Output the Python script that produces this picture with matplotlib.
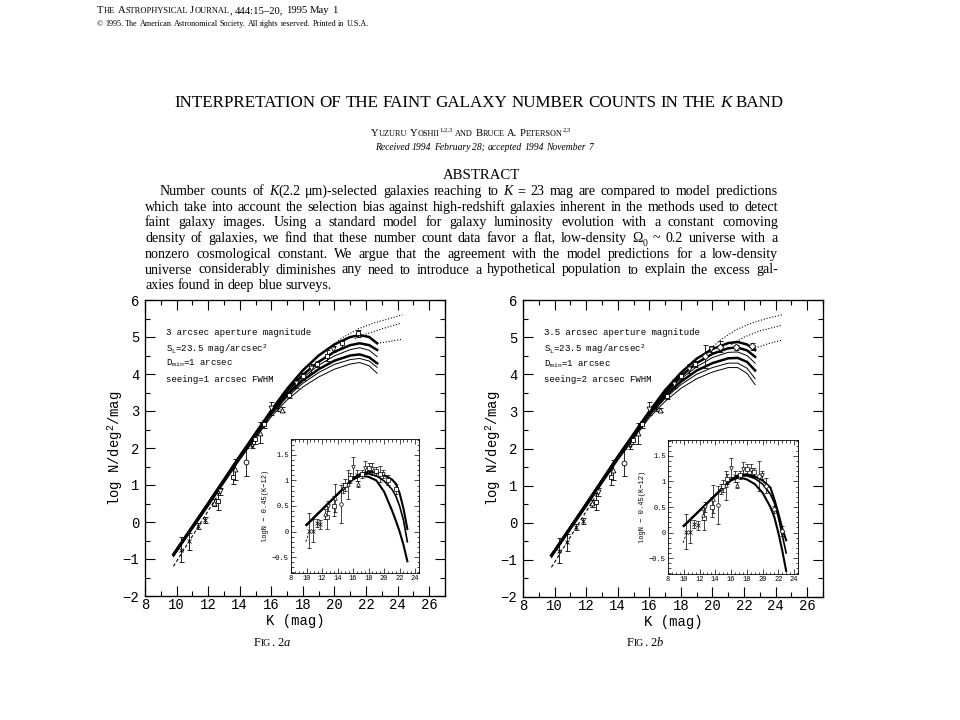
import matplotlib
matplotlib.use("Agg")
import matplotlib.pyplot as plt
import numpy as np
from matplotlib.ticker import MultipleLocator, FuncFormatter

# %% Page text.  '#' = small caps word, '*' toggles italic, '_x' subscript, '^' superscript tail.
header_1 = "#The #Astrophysical #Journal, 444:15–20, 1995 May 1"
header_2 = "© 1995. The American Astronomical Society. All rights reserved. Printed in U.S.A."
title = "INTERPRETATION OF THE FAINT GALAXY NUMBER COUNTS IN THE *K* BAND"
authors = "#Yuzuru #Yoshii^1,2,3 #and #Bruce #A. #Peterson^2,3"
received = "*Received* *1994* *February* *28;* *accepted* *1994* *November* *7*"
abstract_head = "ABSTRACT"
abstract_lines = [
    "Number counts of *K*(2.2 μm)-selected galaxies reaching to *K* = 23 mag are compared to model predictions",
    "which take into account the selection bias against high-redshift galaxies inherent in the methods used to detect",
    "faint galaxy images. Using a standard model for galaxy luminosity evolution with a constant comoving",
    "density of galaxies, we find that these number count data favor a flat, low-density Ω_0 ~ 0.2 universe with a",
    "nonzero cosmological constant. We argue that the agreement with the model predictions for a low-density",
    "universe considerably diminishes any need to introduce a hypothetical population to explain the excess gal-",
    "axies found in deep blue surveys.",
]
captions = ["#Fig. 2*a*", "#Fig. 2*b*"]
notes_a = ["3 arcsec aperture magnitude", r"S$_{\rm L}$=23.5 mag/arcsec$^2$",
           r"D$_{\rm min}$=1 arcsec", "seeing=1 arcsec FWHM"]
notes_b = ["3.5 arcsec aperture magnitude", r"S$_{\rm L}$=23.5 mag/arcsec$^2$",
           r"D$_{\rm min}$=1 arcsec", "seeing=2 arcsec FWHM"]

# %% Model curves, log N/deg^2/mag.
k_model = [9.8, 12, 14, 16, 17, 18, 19, 20, 21, 21.6, 22.2, 22.7]
a_top = [-0.88, 0.5, 1.78, 3.02, 3.6, 4.1, 4.5, 4.8, 5.0, 5.05, 5.0, 4.83]
a_mid = [-0.88, 0.5, 1.77, 2.99, 3.53, 3.98, 4.33, 4.6, 4.78, 4.83, 4.78, 4.65]
a_thin1 = [-0.9, 0.47, 1.74, 2.95, 3.47, 3.9, 4.24, 4.49, 4.66, 4.71, 4.64, 4.47]
a_low = [-0.88, 0.5, 1.76, 2.95, 3.44, 3.83, 4.13, 4.36, 4.5, 4.53, 4.45, 4.29]
a_thin2 = [-0.92, 0.44, 1.71, 2.9, 3.38, 3.75, 4.04, 4.26, 4.39, 4.42, 4.35, 4.18]
a_thin3 = [-0.94, 0.42, 1.68, 2.85, 3.3, 3.65, 3.92, 4.13, 4.27, 4.31, 4.22, 4.02]
b_top = [-0.88, 0.5, 1.78, 3.0, 3.57, 4.04, 4.42, 4.68, 4.84, 4.87, 4.8, 4.65]
b_mid = [-0.88, 0.5, 1.77, 2.98, 3.5, 3.95, 4.3, 4.55, 4.7, 4.72, 4.64, 4.47]
b_thin1 = [-0.9, 0.47, 1.74, 2.95, 3.45, 3.88, 4.2, 4.45, 4.59, 4.6, 4.5, 4.3]
b_low = [-0.88, 0.5, 1.76, 2.93, 3.4, 3.8, 4.1, 4.3, 4.43, 4.44, 4.33, 4.1]
b_thin2 = [-0.92, 0.44, 1.71, 2.88, 3.35, 3.72, 4.0, 4.18, 4.3, 4.3, 4.16, 3.88]
b_thin3 = [-0.94, 0.42, 1.68, 2.83, 3.27, 3.62, 3.88, 4.06, 4.18, 4.18, 4.02, 3.72]

# dotted extensions
a_dot1_k, a_dot1 = [19.5, 20.5, 21.5, 22.5, 23.5, 24.3], [4.66, 4.98, 5.22, 5.38, 5.5, 5.6]
a_dot2_k, a_dot2 = [21.3, 22.0, 23.0, 24.2], [4.95, 5.08, 5.22, 5.37]
a_dot3_k, a_dot3 = [22.7, 23.5, 24.3], [4.83, 4.88, 4.94]
b_dot1_k, b_dot1 = [19.5, 20.5, 21.5, 22.5, 23.5, 24.4], [4.55, 4.92, 5.2, 5.38, 5.51, 5.6]
b_dot2_k, b_dot2 = [21.2, 22.0, 23.0, 24.4], [4.8, 5.0, 5.17, 5.32]
b_dot3_k, b_dot3 = [22.7, 23.5, 24.4], [4.7, 4.82, 4.92]

# dashed bright-end line
dash_k, dash_logn = [9.8, 12.8], [-1.2, 0.85]
dash_in_k, dash_in_y = [9.9, 10.35], [-0.2, -0.02]

# inset model curves, logN - 0.45(K-12)
k_inset = [10, 12, 14, 16, 17, 18, 19, 20, 21, 21.5, 22, 22.5, 23.0]
ia_top = [0.13, 0.43, 0.73, 1.04, 1.13, 1.17, 1.15, 1.1, 1.02, 0.94, 0.75, 0.45, 0.05]
ia_mid = [0.13, 0.43, 0.73, 1.03, 1.11, 1.13, 1.09, 0.99, 0.83, 0.7, 0.5, 0.22, -0.2]
ia_low = [0.13, 0.43, 0.73, 1.02, 1.09, 1.07, 1.0, 0.78, 0.42, 0.22, 0.0, -0.26, -0.58]
ib_top = [0.13, 0.43, 0.73, 1.04, 1.12, 1.14, 1.1, 1.02, 0.88, 0.65, 0.38, 0.08, -0.15]
ib_mid = [0.13, 0.43, 0.73, 1.03, 1.1, 1.11, 1.06, 0.95, 0.75, 0.58, 0.3, -0.05, -0.4]
ib_low = [0.13, 0.43, 0.73, 1.02, 1.08, 1.04, 0.95, 0.78, 0.5, 0.3, 0.0, -0.35, -0.75]

# %% Observed counts (K, log N, error).
cross_k = [10.3, 10.8, 11.35, 11.8, 16.45]
cross_logn = [-0.75, -0.52, -0.12, 0.05, 3.1]
cross_err = [0.34, 0.23, 0.08, 0.08, 0.1]
square_k = [12.6, 13.6, 14.95, 15.55, 17.1, 18.0, 18.9]
square_logn = [0.56, 1.22, 2.24, 2.65, 3.42, 3.94, 4.28]
square_err = [0.23, 0.2, 0.12, 0.1, 0.08, 0.1, 0.08]
circle_k = [14.4]
circle_logn = [1.62]
circle_err = [0.37]
tri_k = [12.4, 13.7, 15.3, 16.7]
tri_logn = [0.52, 1.42, 2.41, 3.04]
tri_err = [0.1, 0.28, 0.28, 0.06]
tdown_k = [12.75, 16.0, 17.55, 18.5, 19.9]
tdown_logn = [0.83, 3.07, 3.75, 4.15, 4.68]
tdown_err = [0.1, 0.18, 0.13, 0.12, 0.08]
star_k = [14.75]
star_logn = [2.09]
star_err = [0.1]
faint_a_k = [19.5, 20.5, 21.5]
faint_a_logn = [4.5, 4.83, 5.1]
faint_a_err = [0.15, 0.1, 0.1]
faint_b_k = [19.5, 20.5, 21.5, 22.5]
faint_b_logn = [4.48, 4.74, 4.73, 4.75]
faint_b_err = [0.3, 0.15, 0.07, 0.1]

# %% Setup.
W, H, DPI = 960, 720, 100
SERIF = ["Liberation Serif", "DejaVu Serif"]
plt.rcParams["font.family"] = ["Liberation Mono", "DejaVu Sans Mono"]
plt.rcParams["mathtext.fontset"] = "custom"
plt.rcParams["mathtext.rm"] = "Liberation Mono"
plt.rcParams["mathtext.it"] = "Liberation Mono:italic"
plt.rcParams["mathtext.bf"] = "Liberation Mono:bold"

fig = plt.figure(figsize=(W / DPI, H / DPI), dpi=DPI)
fig.patch.set_facecolor("white")
renderer = fig.canvas.get_renderer()
_widths = {}


def text_width(s, size, style):
    key = (s, round(size, 3), style)
    if key not in _widths:
        t = fig.text(0, 0, s, fontsize=size, family=SERIF, style=style)
        _widths[key] = t.get_window_extent(renderer).width
        t.remove()
    return _widths[key]


def parse_word(w):
    caps = w.startswith("#")
    if caps:
        w = w[1:]
    sup = ""
    if "^" in w:
        w, sup = w.split("^", 1)
    runs, buf, italic, i = [], "", False, 0
    while i < len(w):
        c = w[i]
        if c == "*":
            if buf:
                runs.append((buf, 1.0, "italic" if italic else "normal", 0.0))
            buf, italic = "", not italic
        elif c == "_" and i + 1 < len(w):
            if buf:
                runs.append((buf, 1.0, "italic" if italic else "normal", 0.0))
            buf = ""
            runs.append((w[i + 1], 0.7, "normal", -0.25))
            i += 1
        else:
            buf += c
        i += 1
    if buf:
        runs.append((buf, 1.0, "italic" if italic else "normal", 0.0))
    if caps:
        out = []
        for s, sc, st, dy in runs:
            seg, low = "", None
            for c in s:
                is_low = c.islower()
                if low is not None and is_low != low:
                    out.append((seg.upper(), sc * (0.78 if low else 1.0), st, dy))
                    seg = ""
                seg += c
                low = is_low
            if seg:
                out.append((seg.upper(), sc * (0.78 if low else 1.0), st, dy))
        runs = out
    if sup:
        runs.append((sup, 0.62, "normal", 0.42))
    return runs


def line_natural(line, size):
    words = [parse_word(w) for w in line.split()]
    ws = [sum(text_width(s, size * sc, st) for s, sc, st, dy in r) for r in words]
    space = text_width("n n", size, "normal") - text_width("nn", size, "normal")
    return words, ws, space


def natural_width(line, size):
    words, ws, space = line_natural(line, size)
    return sum(ws) + space * (len(ws) - 1)


def draw_line(x, y, line, size, width=None, align="left"):
    words, ws, space = line_natural(line, size)
    gap = space
    if width is not None and len(words) > 1:
        gap = (width - sum(ws)) / (len(words) - 1)
    total = sum(ws) + gap * (len(words) - 1)
    if align == "center":
        x -= total / 2
    for runs, w in zip(words, ws):
        xx = x
        for s, sc, st, dy in runs:
            yy = y - dy * size * DPI / 72
            fig.text(xx / W, 1 - yy / H, s, fontsize=size * sc, style=st,
                     family=SERIF, va="baseline", ha="left")
            xx += text_width(s, size * sc, st)
        x += w + gap


def draw_fit(x, y, line, target, align="center"):
    draw_line(x, y, line, 10 * target / natural_width(line, 10), align=align)


def px_rect(left, top, right, bottom):
    return [left / W, 1 - bottom / H, (right - left) / W, (bottom - top) / H]


# %% Page text.
draw_fit(97, 13, header_1, 240, align="left")
draw_fit(97, 26, header_2, 273, align="left")
draw_fit(479, 107, title, 613)
draw_fit(471, 136, authors, 202)
draw_fit(484, 150, received, 218)
draw_fit(481, 179, abstract_head, 77)
abs_size = 10 * 0.975 * (778 - 145) / natural_width(abstract_lines[1], 10)
for i, line in enumerate(abstract_lines):
    y = 195 + 15.7 * i
    if i == 0:
        draw_line(160, y, line, abs_size, width=778 - 160)
    elif i == len(abstract_lines) - 1:
        draw_line(145, y, line, abs_size)
    else:
        draw_line(145, y, line, abs_size, width=778 - 145)
draw_fit(272, 646, captions[0], 36)
draw_fit(645, 646, captions[1], 36)


# %% Panels.
def inset_y(k, logn):
    return np.asarray(logn) - 0.45 * (np.asarray(k) - 12)


def style_axes(ax, size, major, minor, width, pad):
    ax.tick_params(which="both", direction="in", top=True, right=True,
                   width=width, labelsize=size, pad=pad)
    ax.tick_params(which="major", length=major)
    ax.tick_params(which="minor", length=minor)
    for sp in ax.spines.values():
        sp.set_linewidth(width * 1.2)


def draw_panel(main_box, inset_box, model, dots, faint, notes, inset_model):
    surveys = [
        (cross_k, cross_logn, cross_err, "x"),
        (square_k, square_logn, square_err, "s"),
        (circle_k, circle_logn, circle_err, "o"),
        (tri_k, tri_logn, tri_err, "^"),
        (tdown_k, tdown_logn, tdown_err, "v"),
        (star_k, star_logn, star_err, "*"),
        faint,
    ]
    ax = fig.add_axes(px_rect(*main_box))
    for y, lw in zip(model, [1.8, 1.8, 0.7, 1.8, 0.7, 0.7]):
        ax.plot(k_model, y, color="k", lw=lw, zorder=2)
    for kd, yd in dots:
        ax.plot(kd, yd, color="k", lw=0.8, ls=(0, (1, 1.6)), zorder=2)
    ax.plot(dash_k, dash_logn, color="k", lw=0.8, ls=(0, (3, 2)), zorder=2)
    for k, y, e, m in surveys:
        ax.errorbar(k, y, yerr=e, fmt=m, ms=3.5, mfc="white", mec="k", mew=0.6,
                    ecolor="k", elinewidth=0.6, capsize=1.8, capthick=0.6, zorder=3)
    ax.set_xlim(8, 27)
    ax.set_ylim(-2, 6)
    ax.xaxis.set_major_locator(MultipleLocator(2))
    ax.xaxis.set_minor_locator(MultipleLocator(1))
    ax.yaxis.set_major_locator(MultipleLocator(1))
    ax.yaxis.set_minor_locator(MultipleLocator(0.5))
    style_axes(ax, 10, 7, 3.5, 0.8, 4)
    ax.tick_params(axis="x", which="both", pad=1.5)
    ax.set_xlabel("K (mag)", fontsize=10)
    ax.set_ylabel(r"log N/deg$^2$/mag", fontsize=10)
    ax.xaxis.set_label_coords(0.5, -0.06)
    ax.yaxis.set_label_coords(-0.066, 0.5)
    for txt, yf in zip(notes, [0.89, 0.835, 0.785, 0.733]):
        ax.text(0.07, yf, txt, transform=ax.transAxes, fontsize=6.5, va="center")

    ins = fig.add_axes(px_rect(*inset_box))
    ins.set_facecolor("white")
    for y, lw in zip(inset_model, [1.5, 1.2, 1.5]):
        ins.plot(k_inset, y, color="k", lw=lw, zorder=2)
    ins.plot(dash_in_k, dash_in_y, color="k", lw=0.6, ls=(0, (3, 2)), zorder=2)
    for k, y, e, m in surveys:
        ins.errorbar(k, inset_y(k, y), yerr=e, fmt=m, ms=2.6, mfc="white", mec="k",
                     mew=0.5, ecolor="k", elinewidth=0.5, capsize=1.3, capthick=0.5,
                     zorder=3)
    ins.set_xlim(8, 24.5)
    ins.set_ylim(-0.81, 1.81)
    ins.xaxis.set_major_locator(MultipleLocator(2))
    ins.xaxis.set_minor_locator(MultipleLocator(0.5))
    ins.yaxis.set_major_locator(MultipleLocator(0.5))
    ins.yaxis.set_minor_locator(MultipleLocator(0.1))
    ins.yaxis.set_major_formatter(FuncFormatter(lambda v, p: f"{v:g}".replace("-", "−")))
    style_axes(ins, 5, 3.5, 1.8, 0.5, 1.5)
    ins.set_ylabel("logN − 0.45(K−12)", fontsize=5)
    ins.yaxis.set_label_coords(-0.17, 0.5)


draw_panel((145, 300, 445, 596), (291, 439, 419, 573),
           [a_top, a_mid, a_thin1, a_low, a_thin2, a_thin3],
           [(a_dot1_k, a_dot1), (a_dot2_k, a_dot2), (a_dot3_k, a_dot3)],
           (faint_a_k, faint_a_logn, faint_a_err, "s"), notes_a,
           [ia_top, ia_mid, ia_low])
draw_panel((523, 300, 823, 597), (668, 440, 798, 574),
           [b_top, b_mid, b_thin1, b_low, b_thin2, b_thin3],
           [(b_dot1_k, b_dot1), (b_dot2_k, b_dot2), (b_dot3_k, b_dot3)],
           (faint_b_k, faint_b_logn, faint_b_err, "D"), notes_b,
           [ib_top, ib_mid, ib_low])

fig.savefig("out.png", dpi=DPI)
